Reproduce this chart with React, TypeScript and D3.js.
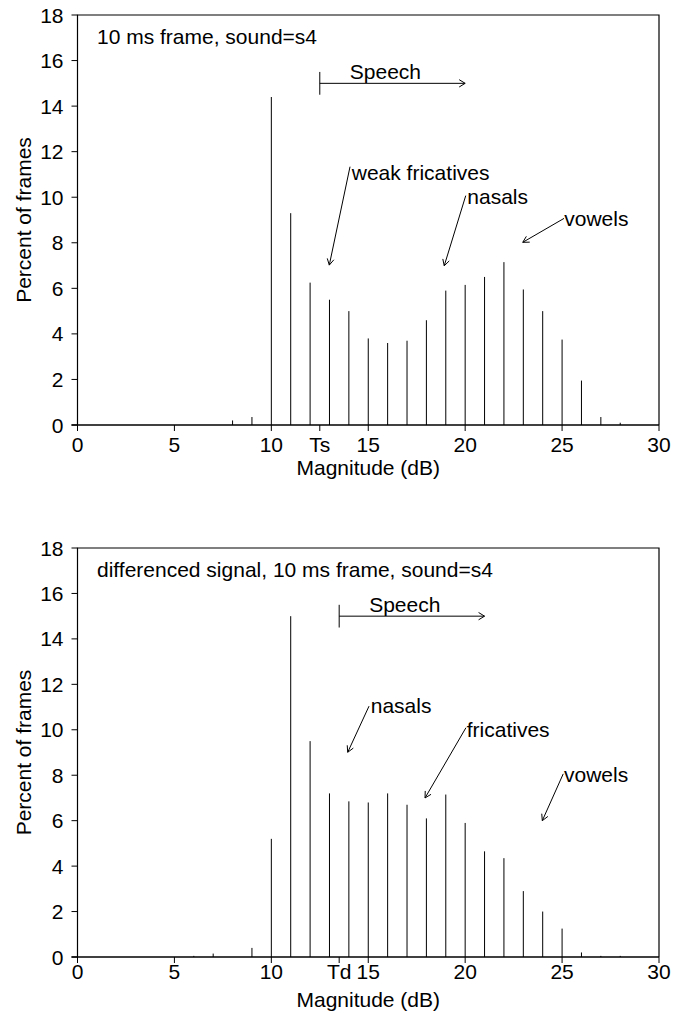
import * as d3 from "d3";

// magnitude bins (dB) and percent of frames
const frameBins = [8, 9, 10, 11, 12, 13, 14, 15, 16, 17, 18, 19, 20, 21, 22, 23, 24, 25, 26, 27, 28];
const framePercent = [0.2, 0.35, 14.4, 9.3, 6.25, 5.5, 5.0, 3.8, 3.6, 3.7, 4.6, 5.9, 6.15, 6.5, 7.15, 5.95, 5.0, 3.75, 1.95, 0.35, 0.1];

const diffBins = [6, 7, 9, 10, 11, 12, 13, 14, 15, 16, 17, 18, 19, 20, 21, 22, 23, 24, 25, 26, 27, 28];
const diffPercent = [0.05, 0.15, 0.4, 5.2, 15.0, 9.5, 7.2, 6.85, 6.8, 7.2, 6.7, 6.1, 7.15, 5.9, 4.65, 4.35, 2.9, 2.0, 1.25, 0.2, 0.05, 0.05];

const xTicks = [0, 5, 10, 15, 20, 25, 30];
const yTicks = [0, 2, 4, 6, 8, 10, 12, 14, 16, 18];

// annotations: text anchor + leader line (from -> arrow tip), in data units
const frameNotes = [
  { label: "weak fricatives", tx: 14.15, ty: 10.75, x1: 14.06, y1: 11.34, x2: 12.99, y2: 7.02 },
  { label: "nasals", tx: 20.11, ty: 9.7, x1: 20.03, y1: 10.07, x2: 18.92, y2: 6.99 },
  { label: "vowels", tx: 25.11, ty: 8.74, x1: 25.1, y1: 9.07, x2: 22.97, y2: 8.02 },
];
const diffNotes = [
  { label: "nasals", tx: 15.13, ty: 10.72, x1: 15.04, y1: 11.04, x2: 13.94, y2: 9.01 },
  { label: "fricatives", tx: 20.08, ty: 9.69, x1: 20.04, y1: 10.09, x2: 17.93, y2: 7.0 },
  { label: "vowels", tx: 25.1, ty: 7.71, x1: 25.06, y1: 8.06, x2: 23.98, y2: 6.0 },
];

const FONT = "'Liberation Sans', Arial, sans-serif";

type Note = { label: string; tx: number; ty: number; x1: number; y1: number; x2: number; y2: number };

function arrowHead(x1: number, y1: number, x2: number, y2: number, len: number, ang: number) {
  const a = Math.atan2(y1 - y2, x1 - x2);
  const p1 = [x2 + len * Math.cos(a + ang), y2 + len * Math.sin(a + ang)];
  const p2 = [x2 + len * Math.cos(a - ang), y2 + len * Math.sin(a - ang)];
  return `M${p1[0]},${p1[1]}L${x2},${y2}L${p2[0]},${p2[1]}`;
}

interface PanelProps {
  top: number;
  bottom: number;
  bins: number[];
  values: number[];
  title: string;
  thrLabel: string;
  thr: number;
  speechEnd: number;
  notes: Note[];
  tickBase: number;
  labelBase: number;
}

function Panel({ top, bottom, bins, values, title, thrLabel, thr, speechEnd, notes, tickBase, labelBase }: PanelProps) {
  const x = d3.scaleLinear().domain([0, 30]).range([77.5, 659]);
  const y = d3.scaleLinear().domain([0, 18]).range([bottom, top]);
  const fs = 21;

  return (
    <g fontFamily={FONT} fill="#000">
      {/* bars */}
      {bins.map((b, i) => (
        <line key={b} x1={x(b)} x2={x(b)} y1={y(0)} y2={y(values[i])} stroke="#000" strokeWidth={1} />
      ))}

      {/* frame */}
      <path d={`M${x(0)},${y(0)}V${y(18)}H${x(30)}V${y(0)}`} fill="none" stroke="#000" strokeWidth={1.2} />
      <line x1={x(0) - 6} x2={x(30)} y1={y(0)} y2={y(0)} stroke="#000" strokeWidth={1.4} />

      {/* y axis */}
      {yTicks.map((t) => (
        <g key={t}>
          <line x1={x(0) - 6} x2={x(0)} y1={y(t)} y2={y(t)} stroke="#000" strokeWidth={1} />
          <text x={x(0) - 14} y={y(t)} dy="0.36em" textAnchor="end" fontSize={fs}>
            {t}
          </text>
        </g>
      ))}
      <text
        transform={`translate(31,${(top + bottom) / 2}) rotate(-90)`}
        textAnchor="middle"
        fontSize={fs}
      >
        Percent of frames
      </text>

      {/* x axis */}
      {xTicks.map((t) => (
        <g key={t}>
          <line x1={x(t)} x2={x(t)} y1={y(0)} y2={y(0) + 6} stroke="#000" strokeWidth={1} />
          <text x={x(t)} y={y(0) + tickBase} textAnchor="middle" fontSize={fs}>
            {t}
          </text>
        </g>
      ))}
      <line x1={x(thr)} x2={x(thr)} y1={y(0)} y2={y(0) + 6} stroke="#000" strokeWidth={1} />
      <text x={x(thr)} y={y(0) + tickBase} textAnchor="middle" fontSize={fs}>
        {thrLabel}
      </text>
      <text x={(x(0) + x(30)) / 2} y={y(0) + labelBase} textAnchor="middle" fontSize={fs}>
        Magnitude (dB)
      </text>

      {/* title */}
      <text x={97} y={top + 29} fontSize={fs}>
        {title}
      </text>

      {/* speech range */}
      <line x1={x(thr)} x2={x(thr)} y1={y(15.5)} y2={y(14.5)} stroke="#000" strokeWidth={1} />
      <line x1={x(thr)} x2={x(speechEnd)} y1={y(15)} y2={y(15)} stroke="#000" strokeWidth={1} />
      <path d={arrowHead(x(thr), y(15), x(speechEnd), y(15), 7, 0.55)} fill="none" stroke="#000" strokeWidth={1} />
      <text x={x(thr) + 30} y={y(15) - 4} fontSize={fs}>
        Speech
      </text>

      {/* annotations */}
      {notes.map((n) => (
        <g key={n.label}>
          <line x1={x(n.x1)} y1={y(n.y1)} x2={x(n.x2)} y2={y(n.y2)} stroke="#000" strokeWidth={1} />
          <path d={arrowHead(x(n.x1), y(n.y1), x(n.x2), y(n.y2), 7, 0.5)} fill="none" stroke="#000" strokeWidth={1} />
          <text x={x(n.tx)} y={y(n.ty)} fontSize={fs}>
            {n.label}
          </text>
        </g>
      ))}
    </g>
  );
}

export default function App() {
  return (
    <svg
      width={673}
      height={1014}
      style={{ position: "absolute", left: 0, top: 0, background: "#fff" }}
    >
      <rect width={673} height={1014} fill="#fff" />
      <Panel
        top={15}
        bottom={425}
        bins={frameBins}
        values={framePercent}
        title="10 ms frame, sound=s4"
        thrLabel="Ts"
        thr={12.5}
        speechEnd={20}
        notes={frameNotes}
        tickBase={27}
        labelBase={50}
      />
      <Panel
        top={548}
        bottom={957}
        bins={diffBins}
        values={diffPercent}
        title="differenced signal, 10 ms frame, sound=s4"
        thrLabel="Td"
        thr={13.5}
        speechEnd={21}
        notes={diffNotes}
        tickBase={22}
        labelBase={50}
      />
    </svg>
  );
}
